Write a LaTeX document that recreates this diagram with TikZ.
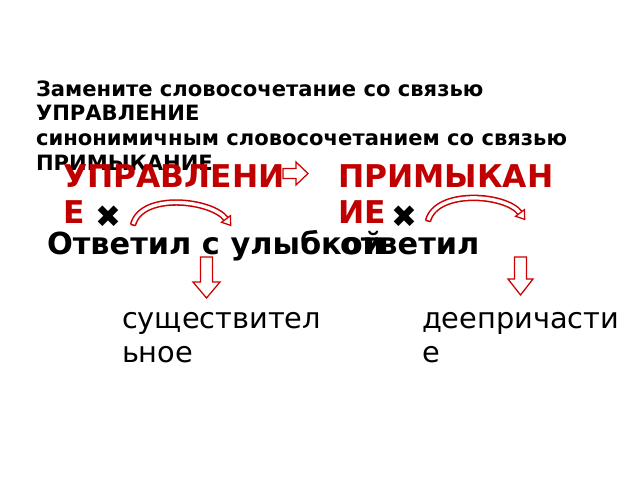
\documentclass[tikz,border=0pt]{standalone}
\usepackage{fontspec}
\setmainfont{DejaVu Sans}
\usepackage{tikz}
\usetikzlibrary{arrows.meta,positioning}
\definecolor{darkred}{RGB}{192, 0, 0}
\definecolor{arrowred}{RGB}{204, 0, 0}

\begin{document}
\begin{tikzpicture}[x=0.025cm, y=-0.025cm,
  every node/.style={inner sep=0pt, outer sep=0pt, anchor=base west, align=left},
  task/.style={font=\fontsize{15}{17.5}\selectfont\bfseries},
  kind/.style={font=\fontsize{22.3}{25.5}\selectfont\bfseries, text=darkred},
  phrase/.style={font=\fontsize{21.6}{24}\selectfont\bfseries},
  part/.style={font=\fontsize{20.5}{24}\selectfont},
  cross/.style={font=\fontsize{22}{22}\selectfont, anchor=center},
  outline arrow/.style={draw=arrowred, fill=white, line width=0.9pt, line join=miter},
  bend band/.style={draw=arrowred, line width=1.1pt, double=white, double distance=2.4pt}]
\fill[white] (0,0) rectangle (640,480);
\useasboundingbox (0,0) rectangle (640,480);

% Task text (base = last line)
\node[task] (task) at (36,170) {Замените словосочетание со связью\\УПРАВЛЕНИЕ\\синонимичным словосочетанием со связью\\ПРИМЫКАНИЕ};

% Kinds of link
\node[kind] (govern) at (63,223) {УПРАВЛЕНИ\\Е};
\node[kind] (adjoin) at (338,223) {ПРИМЫКАН\\ИЕ};
\draw[outline arrow] (283,168.5) -- (296,168.5) -- (296,162) -- (308,173.5) -- (296,185) -- (296,178.5) -- (283,178.5) -- cycle;

% Crosses
\node[cross] (crossL) at (108,217) {✖};
\node[cross] (crossR) at (404,217) {✖};

% Curved arrows, band then hollow head
\coordinate (bendLa) at (133,225);
\coordinate (bendLb) at (226,219);
\coordinate (bendRa) at (428,221);
\coordinate (bendRb) at (520,213);
\draw[bend band] (bendLa) .. controls (141,192) and (212,200) .. (bendLb);
\draw[arrowred, line width=1.1pt] (130.6,224.4) -- (135.4,225.6);
\draw[outline arrow] (230.4,215.7) -- (230.7,225.4) -- (221.6,222.3) -- cycle;
\draw[bend band] (bendRa) .. controls (436,189) and (506,194) .. (bendRb);
\draw[arrowred, line width=1.1pt] (425.6,220.4) -- (430.4,221.6);
\draw[outline arrow] (524.4,209.7) -- (524.7,219.4) -- (515.6,216.3) -- cycle;

% Phrases
\node[phrase] (smile) at (47,254) {Ответил с улыбкой};
\node[phrase] (answer) at (340,254) {ответил};

% Down arrows
\draw[outline arrow] (200.5,257) -- (212.5,257) -- (212.5,282) -- (220,282) -- (206.5,298) -- (193,282) -- (200.5,282) -- cycle;
\draw[outline arrow] (514.5,257) -- (526.5,257) -- (526.5,279) -- (533,279) -- (520.5,295) -- (508,279) -- (514.5,279) -- cycle;

% Parts of speech
\node[part] (noun) at (122,362) {существител\\ьное};
\node[part] (gerund) at (422,362) {деепричасти\\е};
\end{tikzpicture}
\end{document}
